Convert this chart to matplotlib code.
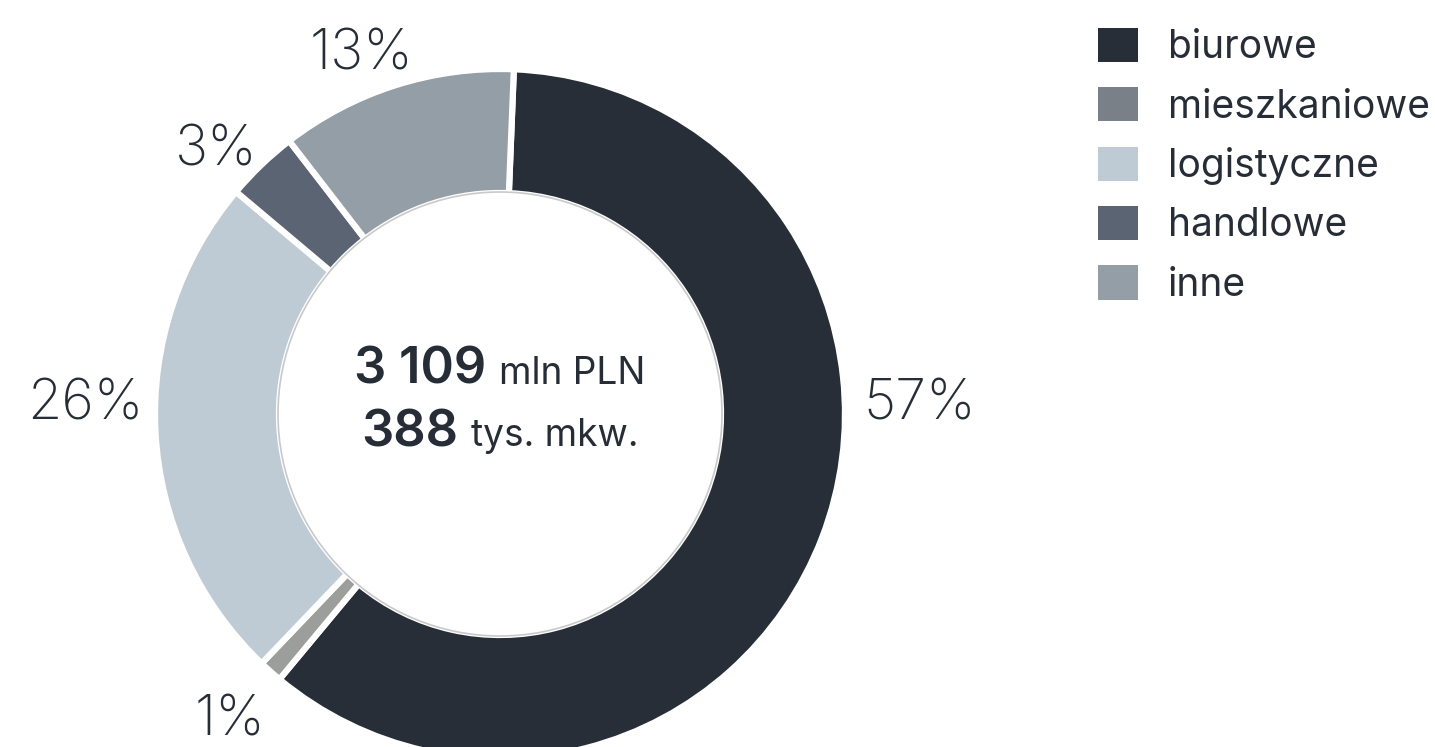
import numpy as np
import matplotlib
matplotlib.use("Agg")
import matplotlib.pyplot as plt
from matplotlib.patches import Patch, Circle
from matplotlib.offsetbox import TextArea, HPacker, AnnotationBbox

plt.rcParams['font.family'] = ['Inter', 'DejaVu Sans']

# dane
categories = ['biurowe', 'mieszkaniowe', 'logistyczne', 'handlowe', 'inne']
shares = [60.4, 1.1, 24.0, 3.4, 11.1]          # udzial wycinkow jak na rysunku
pct_labels = ['57%', '1%', '26%', '3%', '13%']
total_value = '3 109'
total_area = '388'

slice_colors = ['#282e38', '#9c9e9b', '#bfcbd4', '#5a6472', '#939ea6']
legend_colors = ['#282e38', '#7a8087', '#bfcbd4', '#5a6472', '#939ea6']
txt = '#272d37'

W, H = 1435, 747
fig = plt.figure(figsize=(W / 100, H / 100), dpi=100)
ax = fig.add_axes([0, 0, 1, 1])

cx, cy = 500, H - 414
R, r = 345, 221
ax.pie(shares, colors=slice_colors, startangle=87.7, counterclock=False,
       center=(cx, cy), radius=R,
       wedgeprops=dict(width=R - r, edgecolor='white', linewidth=4.5))
ax.add_patch(Circle((cx, cy), r + 1, facecolor='white', edgecolor='#c9c9c9', lw=1.2, zorder=3))

ax.set_xlim(0, W)
ax.set_ylim(0, H)
ax.set_aspect('equal')
ax.axis('off')

# etykiety procentowe (przesuniecie od srodka, baseline)
label_off = [(420, -6), (-270, -322), (-415, -6), (-284, 249), (-139, 344)]
for lab, (dx, dy) in zip(pct_labels, label_off):
    ax.text(cx + dx, cy + dy, lab, ha='center', va='baseline', fontsize=40,
            fontweight='light', color=txt)

# tekst w srodku
def center_line(big, small, y):
    a = TextArea(big, textprops=dict(fontsize=36.5, fontweight='semibold', color=txt))
    b = TextArea(small, textprops=dict(fontsize=26.7, color=txt))
    box = HPacker(children=[a, b], align='baseline', pad=0, sep=9)
    ab = AnnotationBbox(box, (cx, y), frameon=False, box_alignment=(0.5, 0.5), zorder=5)
    ax.add_artist(ab)

center_line(total_value, 'mln PLN', H - 370)
center_line(total_area, 'tys. mkw.', H - 433)

handles = [Patch(facecolor=c, edgecolor='none') for c in legend_colors]
ax.legend(handles, categories, loc='upper left', bbox_to_anchor=(1098 / W, 1 - 28 / H),
          frameon=False, fontsize=28, handlelength=1.02, handleheight=0.97,
          handletextpad=0.78, labelspacing=0.54, borderpad=0, borderaxespad=0,
          labelcolor=txt)

fig.savefig('out.png', dpi=100)
